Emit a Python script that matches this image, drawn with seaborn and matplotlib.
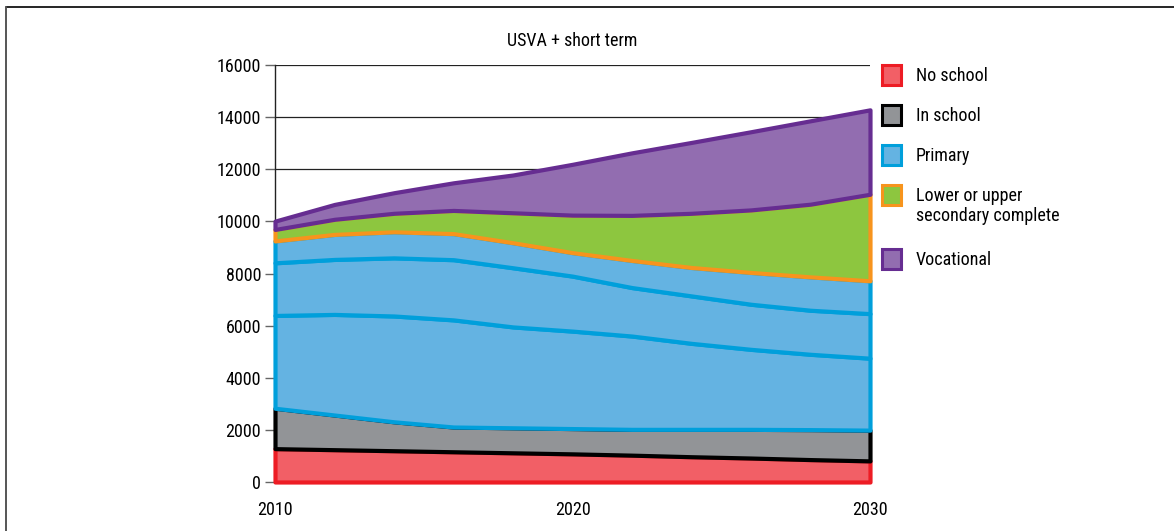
import numpy as np
import matplotlib
matplotlib.use("Agg")
import matplotlib.pyplot as plt
from matplotlib.patches import Rectangle
from matplotlib.lines import Line2D
from matplotlib import font_manager
import seaborn as sns

# values, every 2 years
years = [2010, 2012, 2014, 2016, 2018, 2020, 2022, 2024, 2026, 2028, 2030]
no_school = [1280, 1240, 1200, 1160, 1120, 1080, 1030, 970, 920, 860, 810]
in_school = [1550, 1330, 1110, 950, 960, 970, 990, 1050, 1100, 1150, 1180]
# primary is drawn as three sub-bands with the same style
primary_1 = [3560, 3860, 4060, 4110, 3870, 3740, 3580, 3300, 3070, 2890, 2760]
primary_2 = [2020, 2110, 2230, 2310, 2270, 2110, 1860, 1820, 1730, 1690, 1710]
primary_3 = [840, 960, 1000, 1000, 960, 900, 1040, 1090, 1220, 1280, 1260]
secondary = [440, 580, 710, 890, 1150, 1440, 1730, 2080, 2400, 2790, 3320]
vocational = [320, 570, 790, 1060, 1450, 1950, 2400, 2720, 3000, 3200, 3240]

legend_labels = ["No school", "In school", "Primary",
                 "Lower or upper\nsecondary complete", "Vocational"]
x_ticks = [2010, 2020, 2030]
y_ticks = list(range(0, 16001, 2000))

# fill / edge colours
c_red = ("#f25f66", "#ed1c24")
c_grey = ("#929497", "#000000")
c_blue = ("#64b3e2", "#009fdb")
c_green = ("#8dc63f", "#f7941d")
c_purple = ("#926db0", "#662d91")

bands = [
    (no_school, c_red),
    (in_school, c_grey),
    (primary_1, c_blue),
    (primary_2, c_blue),
    (primary_3, c_blue),
    (secondary, c_green),
    (vocational, c_purple),
]
legend_colors = [c_red, c_grey, c_blue, c_green, c_purple]

sns.set_theme(style="white")

# pick a narrow face if one is installed, else Liberation Sans
installed = {f.name for f in font_manager.fontManager.ttflist}
narrow = [n for n in ["Liberation Sans Narrow", "Roboto Condensed",
                      "Open Sans Condensed", "Noto Sans Condensed"] if n in installed]
if narrow:
    family, fs = narrow[0], 13
else:
    family, fs = "Liberation Sans", 12
plt.rcParams["font.family"] = [family, "DejaVu Sans"]
plt.rcParams["text.color"] = "black"
plt.rcParams["xtick.color"] = "black"
plt.rcParams["ytick.color"] = "black"

W, H = 1174, 531
fig = plt.figure(figsize=(W / 100, H / 100), dpi=100)
ax = fig.add_axes([275 / W, 1 - 482 / H, (870 - 275) / W, (482 - 65) / H])

x = np.array(years)
bottom = np.zeros(len(years))
for i, (vals, (fc, ec)) in enumerate(bands):
    top = bottom + np.array(vals)
    ax.fill_between(x, bottom, top, facecolor=fc, edgecolor=ec,
                    linewidth=3.0, zorder=3 + i, clip_on=False,
                    joinstyle="round")
    bottom = top

ax.set_xlim(2010, 2030)
ax.set_ylim(0, 16000)
ax.set_xticks(x_ticks)
ax.set_yticks(y_ticks)
ax.set_xticklabels([str(t) for t in x_ticks], fontsize=fs)
ax.set_yticklabels([str(t) for t in y_ticks], fontsize=fs)
ax.yaxis.grid(True, color="#222222", linewidth=0.9, zorder=0)
ax.set_axisbelow(True)
ax.tick_params(axis="y", length=7, width=1, color="#666666", pad=3, left=True)
ax.tick_params(axis="x", length=0, pad=14)

sns.despine(ax=ax, top=True, right=True)
ax.spines["left"].set_color("#222222")
ax.spines["left"].set_linewidth(1)
ax.spines["bottom"].set_color("#777777")
ax.spines["bottom"].set_linewidth(1.4)

ax.set_title("USVA + short term", fontsize=fs, pad=14)

# legend drawn by hand so the two-line entry keeps its square on the first line
rows = [75, 115, 155, 195, 259]
for (fc, ec), label, py in zip(legend_colors, legend_labels, rows):
    sq = 19
    fig.patches.append(Rectangle((882 / W, 1 - (py + sq / 2) / H), sq / W, sq / H,
                                 facecolor=fc, edgecolor=ec, linewidth=2.2,
                                 transform=fig.transFigure, figure=fig))
    fig.text(916 / W, 1 - (py - 8) / H, label, fontsize=fs, va="top",
             ha="left", linespacing=1.15)

# outer frame (only top and left edges are visible)
fig.add_artist(Line2D([6 / W, 1], [1 - 7 / H, 1 - 7 / H], color="black",
                      linewidth=1.2, transform=fig.transFigure))
fig.add_artist(Line2D([6 / W, 6 / W], [0, 1 - 7 / H], color="#555555",
                      linewidth=1.4, transform=fig.transFigure))

fig.savefig("out.png", dpi=100, facecolor="white")
